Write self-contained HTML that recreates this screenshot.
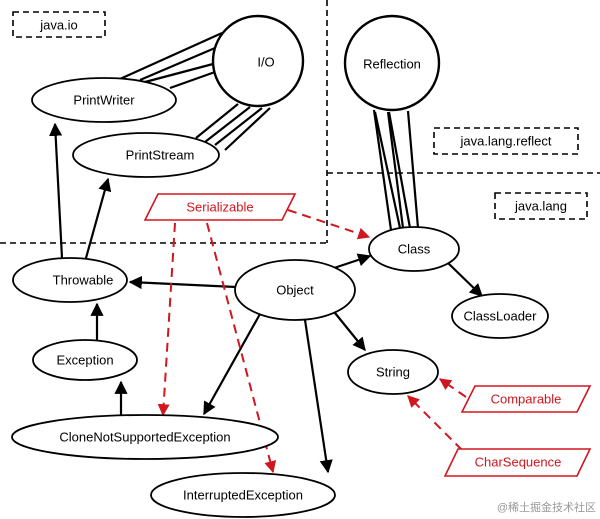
<!DOCTYPE html>
<html><head><style>body{margin:0;background:#fff}svg{display:block}text{font-family:"Liberation Sans",sans-serif;font-size:13px;text-anchor:middle;dominant-baseline:central}</style></head><body>
<svg width="600" height="519" viewBox="0 0 600 519">
<defs>
<marker id="a" viewBox="0 0 10 10" refX="9" refY="5" markerWidth="6" markerHeight="6" orient="auto"><path d="M0,0L10,5L0,10z" fill="#000"/></marker>
<marker id="r" viewBox="0 0 10 10" refX="9" refY="5" markerWidth="6" markerHeight="6" orient="auto"><path d="M0,0L10,5L0,10z" fill="#d0161e"/></marker>
</defs>
<g fill="none" stroke="#000" stroke-width="1.6" stroke-dasharray="6,4">
<rect x="13" y="12" width="92" height="25"/>
<rect x="434" y="128" width="144" height="26"/>
<rect x="495" y="193" width="92" height="26"/>
<line x1="327" y1="0" x2="327" y2="243"/>
<line x1="0" y1="243" x2="327" y2="243"/>
<line x1="327" y1="173" x2="600" y2="173"/>
</g>
<g stroke="#000" stroke-width="2.2" fill="none">
<line x1="120" y1="79" x2="222" y2="33"/><line x1="140" y1="80" x2="215" y2="48"/><line x1="145" y1="82" x2="213" y2="64"/><line x1="170" y1="88" x2="215" y2="72"/>
<line x1="196" y1="138" x2="238" y2="104"/><line x1="205" y1="142" x2="250" y2="107"/><line x1="215" y1="145" x2="262" y2="108"/><line x1="225" y1="150" x2="270" y2="108"/>
<line x1="374" y1="110" x2="391" y2="230"/><line x1="388" y1="112" x2="403" y2="228"/><line x1="408" y1="111" x2="418" y2="228"/><line x1="375" y1="112" x2="400" y2="228"/><line x1="389" y1="112" x2="410" y2="228"/>
<line x1="62" y1="258" x2="55" y2="124" marker-end="url(#a)"/>
<line x1="86" y1="258" x2="108" y2="179" marker-end="url(#a)"/>
<line x1="97" y1="340" x2="97" y2="304" marker-end="url(#a)"/>
<line x1="121" y1="415" x2="121" y2="382" marker-end="url(#a)"/>
<line x1="236" y1="287" x2="130" y2="282" marker-end="url(#a)"/>
<line x1="334" y1="268" x2="370" y2="256" marker-end="url(#a)"/>
<line x1="448" y1="263" x2="482" y2="296" marker-end="url(#a)"/>
<line x1="335" y1="313" x2="365" y2="350" marker-end="url(#a)"/>
<line x1="260" y1="314" x2="204" y2="414" marker-end="url(#a)"/>
<line x1="305" y1="320" x2="328" y2="472" marker-end="url(#a)"/>
</g>
<g stroke="#d0161e" stroke-width="2" stroke-dasharray="9,6" fill="none">
<line x1="288" y1="210" x2="369" y2="237" marker-end="url(#r)"/>
<line x1="175" y1="223" x2="163" y2="415" marker-end="url(#r)"/>
<line x1="207" y1="223" x2="273" y2="472" marker-end="url(#r)"/>
<line x1="466" y1="397" x2="440" y2="379" marker-end="url(#r)"/>
<line x1="462" y1="450" x2="408" y2="396" marker-end="url(#r)"/>
</g>
<g fill="#fff" stroke="#000" stroke-width="1.8">
<circle cx="258" cy="61" r="45" stroke-width="2.4"/>
<circle cx="392" cy="63" r="47" stroke-width="2.4"/>
<ellipse cx="104" cy="100" rx="72" ry="22"/>
<ellipse cx="146" cy="155" rx="73" ry="22"/>
<ellipse cx="70" cy="280" rx="57" ry="22"/>
<ellipse cx="295" cy="290" rx="60" ry="30"/>
<ellipse cx="414" cy="249" rx="45" ry="22"/>
<ellipse cx="500" cy="316" rx="48" ry="22"/>
<ellipse cx="393" cy="372" rx="45" ry="22"/>
<ellipse cx="85" cy="360" rx="52" ry="20"/>
<ellipse cx="145" cy="437" rx="133" ry="22"/>
<ellipse cx="243" cy="495" rx="92" ry="22"/>
</g>
<g fill="#fff" stroke="#d0161e" stroke-width="1.6">
<polygon points="158,194 295,194 282,220 145,220"/>
<polygon points="475,386 590,386 577,412 462,412"/>
<polygon points="458,449 590,449 577,476 445,476"/>
</g>
<text x="59" y="25">java.io</text>
<text x="506" y="141">java.lang.reflect</text>
<text x="541" y="206">java.lang</text>
<text x="266" y="62">I/O</text>
<text x="392" y="64">Reflection</text>
<text x="104" y="100">PrintWriter</text>
<text x="160" y="155">PrintStream</text>
<text x="83" y="280">Throwable</text>
<text x="295" y="290">Object</text>
<text x="414" y="249">Class</text>
<text x="500" y="316">ClassLoader</text>
<text x="393" y="372">String</text>
<text x="85" y="360">Exception</text>
<text x="145" y="437">CloneNotSupportedException</text>
<text x="243" y="495">InterruptedException</text>
<g fill="#d0161e"><text x="220" y="207">Serializable</text><text x="526" y="399">Comparable</text><text x="518" y="462">CharSequence</text></g>
<text x="596" y="508" style="font-size:11px;text-anchor:end" fill="#999">@稀土掘金技术社区</text>
</svg>
</body></html>
